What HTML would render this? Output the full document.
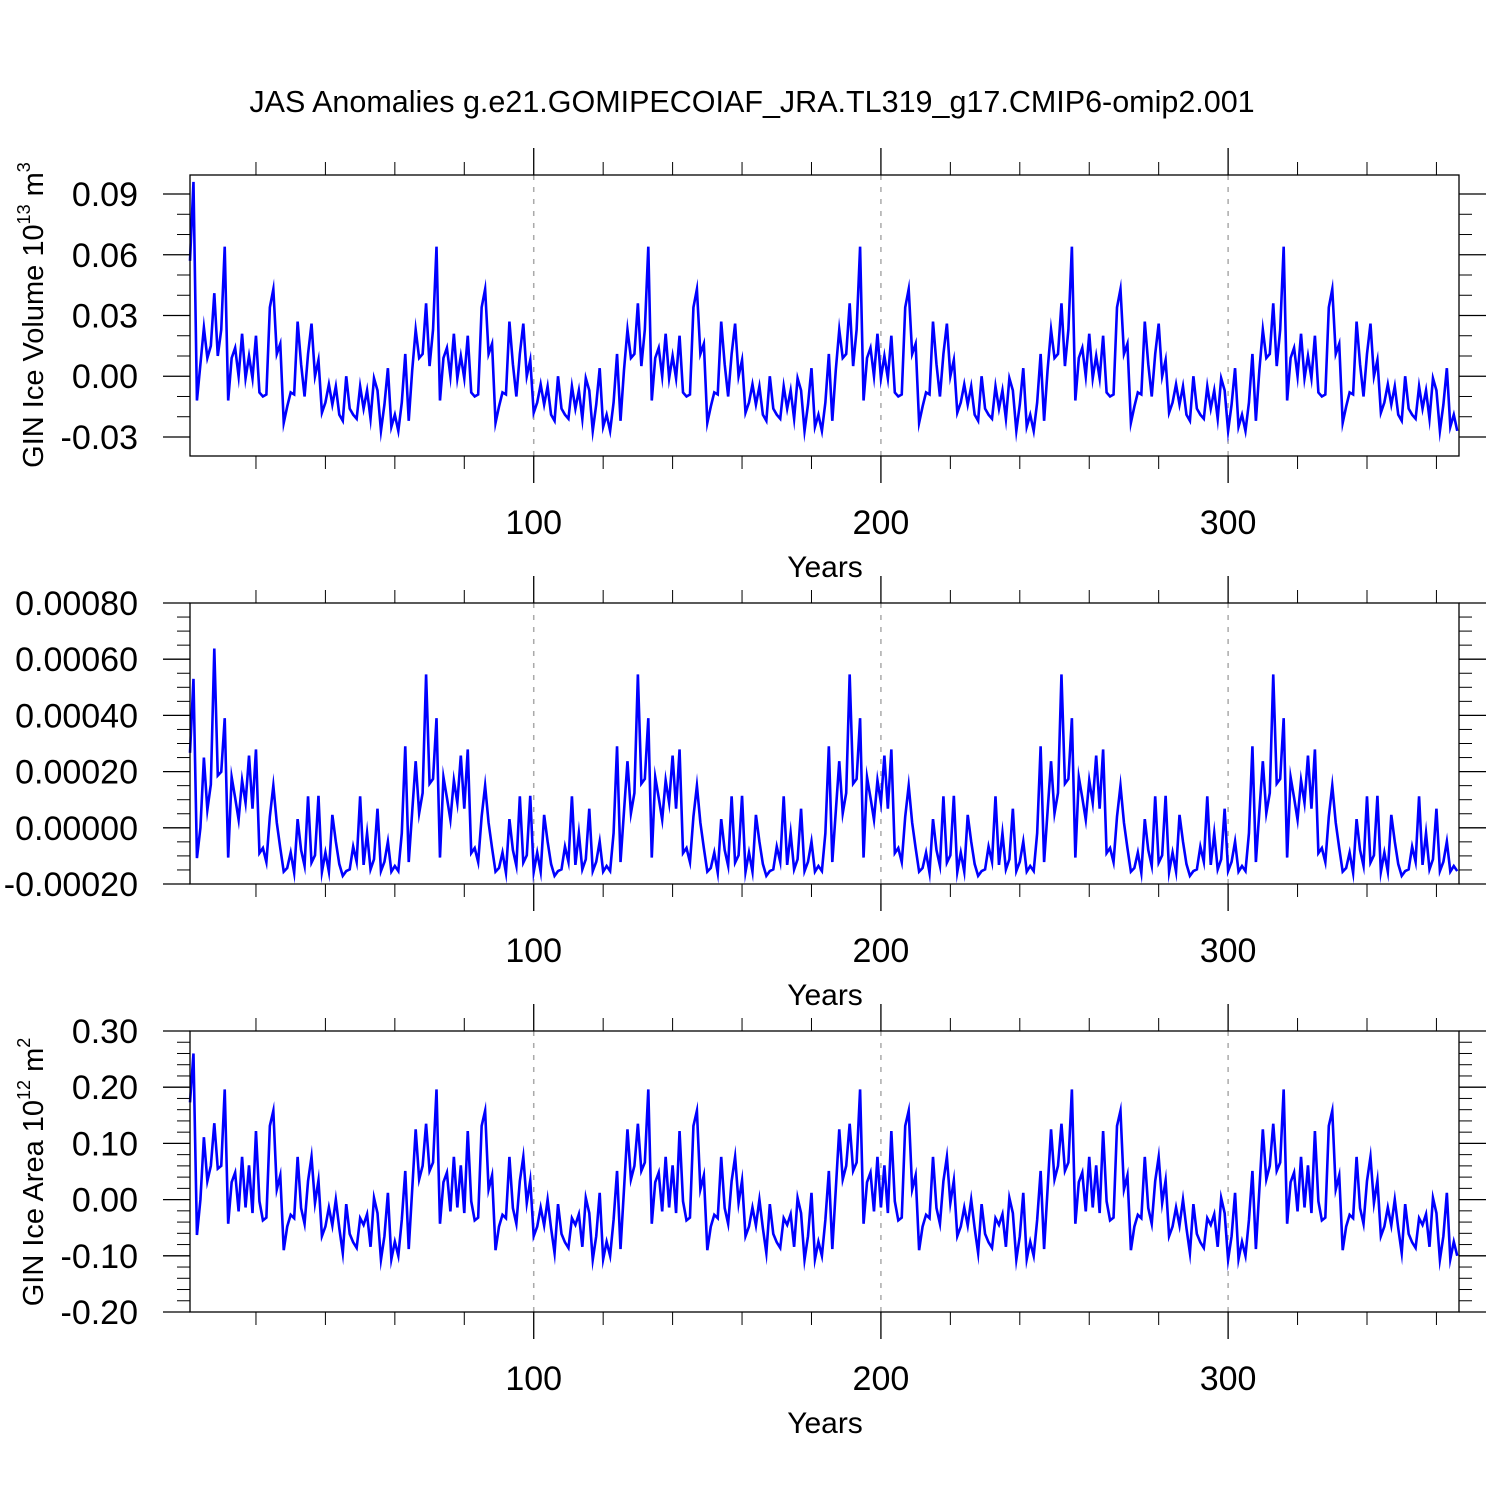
<!DOCTYPE html>
<html><head><meta charset="utf-8"><style>
html,body{margin:0;padding:0;background:#fff;}
svg{display:block;font-family:"Liberation Sans",Arial,sans-serif;}
</style></head><body>
<svg id="chart" width="1500" height="1500" xmlns="http://www.w3.org/2000/svg">
<rect width="1500" height="1500" fill="#fff"/>
<text x="752" y="112" font-size="30.5" text-anchor="middle">JAS Anomalies g.e21.GOMIPECOIAF_JRA.TL319_g17.CMIP6-omip2.001</text>
<text transform="translate(43,315) rotate(-90)" font-size="29" text-anchor="middle">GIN Ice Volume 10<tspan font-size="18" dy="-13">13</tspan><tspan dy="13"> m</tspan><tspan font-size="18" dy="-13">3</tspan></text>
<text transform="translate(43,1172) rotate(-90)" font-size="29" text-anchor="middle">GIN Ice Area 10<tspan font-size="18" dy="-13">12</tspan><tspan dy="13"> m</tspan><tspan font-size="18" dy="-13">2</tspan></text>
</svg>
<script>
const volume = [0.057,0.096,-0.012,0.006,0.024,0.009,0.015,0.041,0.010,0.023,
0.064,-0.012,0.009,0.014,0.000,0.021,-0.001,0.010,-0.001,0.020,-0.008,-0.010,-0.009,0.034,0.043,0.011,0.016,-0.023,-0.015,-0.008,-0.009,0.027,0.006,-0.010,0.011,0.026,0.000,0.008,-0.018,-0.013,-0.004,-0.014,-0.005,-0.019,-0.022,0.000,-0.016,-0.019,-0.021,-0.005,-0.016,-0.007,-0.021,-0.001,-0.007,-0.027,-0.014,0.004,-0.025,-0.019,-0.027,-0.013,0.011,-0.022,0.003,0.023,0.009,0.011,0.036,0.005,0.023,
0.064,-0.012,0.009,0.014,0.000,0.021,-0.001,0.010,-0.001,0.020,-0.008,-0.010,-0.009,0.034,0.043,0.011,0.016,-0.023,-0.015,-0.008,-0.009,0.027,0.006,-0.010,0.011,0.026,0.000,0.008,-0.018,-0.013,-0.004,-0.014,-0.005,-0.019,-0.022,0.000,-0.016,-0.019,-0.021,-0.005,-0.016,-0.007,-0.021,-0.001,-0.007,-0.027,-0.014,0.004,-0.025,-0.019,-0.027,-0.013,0.011,-0.022,0.003,0.023,0.009,0.011,0.036,0.005,0.023,
0.064,-0.012,0.009,0.014,0.000,0.021,-0.001,0.010,-0.001,0.020,-0.008,-0.010,-0.009,0.034,0.043,0.011,0.016,-0.023,-0.015,-0.008,-0.009,0.027,0.006,-0.010,0.011,0.026,0.000,0.008,-0.018,-0.013,-0.004,-0.014,-0.005,-0.019,-0.022,0.000,-0.016,-0.019,-0.021,-0.005,-0.016,-0.007,-0.021,-0.001,-0.007,-0.027,-0.014,0.004,-0.025,-0.019,-0.027,-0.013,0.011,-0.022,0.003,0.023,0.009,0.011,0.036,0.005,0.023,
0.064,-0.012,0.009,0.014,0.000,0.021,-0.001,0.010,-0.001,0.020,-0.008,-0.010,-0.009,0.034,0.043,0.011,0.016,-0.023,-0.015,-0.008,-0.009,0.027,0.006,-0.010,0.011,0.026,0.000,0.008,-0.018,-0.013,-0.004,-0.014,-0.005,-0.019,-0.022,0.000,-0.016,-0.019,-0.021,-0.005,-0.016,-0.007,-0.021,-0.001,-0.007,-0.027,-0.014,0.004,-0.025,-0.019,-0.027,-0.013,0.011,-0.022,0.003,0.023,0.009,0.011,0.036,0.005,0.023,
0.064,-0.012,0.009,0.014,0.000,0.021,-0.001,0.010,-0.001,0.020,-0.008,-0.010,-0.009,0.034,0.043,0.011,0.016,-0.023,-0.015,-0.008,-0.009,0.027,0.006,-0.010,0.011,0.026,0.000,0.008,-0.018,-0.013,-0.004,-0.014,-0.005,-0.019,-0.022,0.000,-0.016,-0.019,-0.021,-0.005,-0.016,-0.007,-0.021,-0.001,-0.007,-0.027,-0.014,0.004,-0.025,-0.019,-0.027,-0.013,0.011,-0.022,0.003,0.023,0.009,0.011,0.036,0.005,0.023,
0.064,-0.012,0.009,0.014,0.000,0.021,-0.001,0.010,-0.001,0.020,-0.008,-0.010,-0.009,0.034,0.043,0.011,0.016,-0.023,-0.015,-0.008,-0.009,0.027,0.006,-0.010,0.011,0.026,0.000,0.008,-0.018,-0.013,-0.004,-0.014,-0.005,-0.019,-0.022,0.000,-0.016,-0.019,-0.021,-0.005,-0.016,-0.007,-0.021,-0.001,-0.007,-0.027,-0.014,0.004,-0.025,-0.019,-0.027];

// middle panel values in units of 1e-5
const middle = [26.7,53,-10.8,0,25,6.4,15.4,63.8,18.6,19.9,
39,-10.6,18,10.7,2.9,16.9,8.9,25.7,6.8,27.9,-9,-7.2,-12.2,4,15,1.8,-7.2,-15.6,-14.3,-8.8,-16,3.1,-7.9,-13.5,11.2,-12.4,-9.8,11.4,-15.7,-8.8,-15.6,4.6,-4.9,-12.9,-17.1,-15.4,-14.8,-6.7,-12.1,11.2,-13.2,-1.9,-14.8,-11.2,6.8,-15.4,-12.1,-4.9,-15.6,-13.6,-15.4,-1.9,29,-12.2,5.8,23.7,5.2,12.4,54.6,15.7,17.4,
39,-10.6,18,10.7,2.9,16.9,8.9,25.7,6.8,27.9,-9,-7.2,-12.2,4,15,1.8,-7.2,-15.6,-14.3,-8.8,-16,3.1,-7.9,-13.5,11.2,-12.4,-9.8,11.4,-15.7,-8.8,-15.6,4.6,-4.9,-12.9,-17.1,-15.4,-14.8,-6.7,-12.1,11.2,-13.2,-1.9,-14.8,-11.2,6.8,-15.4,-12.1,-4.9,-15.6,-13.6,-15.4,-1.9,29,-12.2,5.8,23.7,5.2,12.4,54.6,15.7,17.4,
39,-10.6,18,10.7,2.9,16.9,8.9,25.7,6.8,27.9,-9,-7.2,-12.2,4,15,1.8,-7.2,-15.6,-14.3,-8.8,-16,3.1,-7.9,-13.5,11.2,-12.4,-9.8,11.4,-15.7,-8.8,-15.6,4.6,-4.9,-12.9,-17.1,-15.4,-14.8,-6.7,-12.1,11.2,-13.2,-1.9,-14.8,-11.2,6.8,-15.4,-12.1,-4.9,-15.6,-13.6,-15.4,-1.9,29,-12.2,5.8,23.7,5.2,12.4,54.6,15.7,17.4,
39,-10.6,18,10.7,2.9,16.9,8.9,25.7,6.8,27.9,-9,-7.2,-12.2,4,15,1.8,-7.2,-15.6,-14.3,-8.8,-16,3.1,-7.9,-13.5,11.2,-12.4,-9.8,11.4,-15.7,-8.8,-15.6,4.6,-4.9,-12.9,-17.1,-15.4,-14.8,-6.7,-12.1,11.2,-13.2,-1.9,-14.8,-11.2,6.8,-15.4,-12.1,-4.9,-15.6,-13.6,-15.4,-1.9,29,-12.2,5.8,23.7,5.2,12.4,54.6,15.7,17.4,
39,-10.6,18,10.7,2.9,16.9,8.9,25.7,6.8,27.9,-9,-7.2,-12.2,4,15,1.8,-7.2,-15.6,-14.3,-8.8,-16,3.1,-7.9,-13.5,11.2,-12.4,-9.8,11.4,-15.7,-8.8,-15.6,4.6,-4.9,-12.9,-17.1,-15.4,-14.8,-6.7,-12.1,11.2,-13.2,-1.9,-14.8,-11.2,6.8,-15.4,-12.1,-4.9,-15.6,-13.6,-15.4,-1.9,29,-12.2,5.8,23.7,5.2,12.4,54.6,15.7,17.4,
39,-10.6,18,10.7,2.9,16.9,8.9,25.7,6.8,27.9,-9,-7.2,-12.2,4,15,1.8,-7.2,-15.6,-14.3,-8.8,-16,3.1,-7.9,-13.5,11.2,-12.4,-9.8,11.4,-15.7,-8.8,-15.6,4.6,-4.9,-12.9,-17.1,-15.4,-14.8,-6.7,-12.1,11.2,-13.2,-1.9,-14.8,-11.2,6.8,-15.4,-12.1,-4.9,-15.6,-13.6,-15.4];

const area = [0.173,0.26,-0.063,0.0,0.111,0.033,0.06,0.136,0.055,0.06,
0.196,-0.043,0.031,0.048,-0.021,0.076,-0.014,0.061,-0.024,0.122,-0.003,-0.037,-0.032,0.131,0.158,0.018,0.043,-0.090,-0.048,-0.027,-0.033,0.076,-0.015,-0.043,0.033,0.076,-0.006,0.034,-0.065,-0.048,-0.014,-0.046,0.000,-0.051,-0.095,-0.008,-0.061,-0.076,-0.086,-0.033,-0.045,-0.026,-0.084,0.003,-0.024,-0.107,-0.065,0.012,-0.106,-0.075,-0.100,-0.036,0.051,-0.088,0.018,0.125,0.036,0.060,0.135,0.051,0.066,
0.196,-0.043,0.031,0.048,-0.021,0.076,-0.014,0.061,-0.024,0.122,-0.003,-0.037,-0.032,0.131,0.158,0.018,0.043,-0.090,-0.048,-0.027,-0.033,0.076,-0.015,-0.043,0.033,0.076,-0.006,0.034,-0.065,-0.048,-0.014,-0.046,0.000,-0.051,-0.095,-0.008,-0.061,-0.076,-0.086,-0.033,-0.045,-0.026,-0.084,0.003,-0.024,-0.107,-0.065,0.012,-0.106,-0.075,-0.100,-0.036,0.051,-0.088,0.018,0.125,0.036,0.060,0.135,0.051,0.066,
0.196,-0.043,0.031,0.048,-0.021,0.076,-0.014,0.061,-0.024,0.122,-0.003,-0.037,-0.032,0.131,0.158,0.018,0.043,-0.090,-0.048,-0.027,-0.033,0.076,-0.015,-0.043,0.033,0.076,-0.006,0.034,-0.065,-0.048,-0.014,-0.046,0.000,-0.051,-0.095,-0.008,-0.061,-0.076,-0.086,-0.033,-0.045,-0.026,-0.084,0.003,-0.024,-0.107,-0.065,0.012,-0.106,-0.075,-0.100,-0.036,0.051,-0.088,0.018,0.125,0.036,0.060,0.135,0.051,0.066,
0.196,-0.043,0.031,0.048,-0.021,0.076,-0.014,0.061,-0.024,0.122,-0.003,-0.037,-0.032,0.131,0.158,0.018,0.043,-0.090,-0.048,-0.027,-0.033,0.076,-0.015,-0.043,0.033,0.076,-0.006,0.034,-0.065,-0.048,-0.014,-0.046,0.000,-0.051,-0.095,-0.008,-0.061,-0.076,-0.086,-0.033,-0.045,-0.026,-0.084,0.003,-0.024,-0.107,-0.065,0.012,-0.106,-0.075,-0.100,-0.036,0.051,-0.088,0.018,0.125,0.036,0.060,0.135,0.051,0.066,
0.196,-0.043,0.031,0.048,-0.021,0.076,-0.014,0.061,-0.024,0.122,-0.003,-0.037,-0.032,0.131,0.158,0.018,0.043,-0.090,-0.048,-0.027,-0.033,0.076,-0.015,-0.043,0.033,0.076,-0.006,0.034,-0.065,-0.048,-0.014,-0.046,0.000,-0.051,-0.095,-0.008,-0.061,-0.076,-0.086,-0.033,-0.045,-0.026,-0.084,0.003,-0.024,-0.107,-0.065,0.012,-0.106,-0.075,-0.100,-0.036,0.051,-0.088,0.018,0.125,0.036,0.060,0.135,0.051,0.066,
0.196,-0.043,0.031,0.048,-0.021,0.076,-0.014,0.061,-0.024,0.122,-0.003,-0.037,-0.032,0.131,0.158,0.018,0.043,-0.090,-0.048,-0.027,-0.033,0.076,-0.015,-0.043,0.033,0.076,-0.006,0.034,-0.065,-0.048,-0.014,-0.046,0.000,-0.051,-0.095,-0.008,-0.061,-0.076,-0.086,-0.033,-0.045,-0.026,-0.084,0.003,-0.024,-0.107,-0.065,0.012,-0.106,-0.075,-0.100];

const xMajorTicks = [100, 200, 300];
const xMajorLabels = ["100", "200", "300"];
const xMinorTicks = [20,40,60,80,120,140,160,180,220,240,260,280,320,340,360];
const volTicks = [-0.03, 0, 0.03, 0.06, 0.09];
const volLabels = ["-0.03", "0.00", "0.03", "0.06", "0.09"];
const midTicks = [-20, 0, 20, 40, 60, 80];
const midLabels = ["-0.00020", "0.00000", "0.00020", "0.00040", "0.00060", "0.00080"];
const areaTicks = [-0.2, -0.1, 0, 0.1, 0.2, 0.3];
const areaLabels = ["-0.20", "-0.10", "0.00", "0.10", "0.20", "0.30"];

const svg = document.getElementById('chart');
const NS = 'http://www.w3.org/2000/svg';
const L = 190, R = 1459, H = 281;
const xMin = 1, xMax = 366.5;
function xScale(v){ return L + (v - xMin) / (xMax - xMin) * (R - L); }
function mk(tag, attrs, parent){ const e = document.createElementNS(NS, tag); for (const k in attrs) e.setAttribute(k, attrs[k]); (parent||svg).appendChild(e); return e; }

const panels = [
 {name:'volume', top:175, data:volume, ymin:-0.0394, ymax:0.0994, ticks:volTicks, labels:volLabels, minor:0.01},
 {name:'middle', top:603, data:middle, ymin:-20, ymax:80, ticks:midTicks, labels:midLabels, minor:5},
 {name:'area', top:1031, data:area, ymin:-0.2, ymax:0.3, ticks:areaTicks, labels:areaLabels, minor:0.02}
];

panels.forEach(p => {
  const T = p.top, B = p.top + H;
  const yScale = v => B - (v - p.ymin) / (p.ymax - p.ymin) * H;
  const g = mk('g', {});
  
  
  xMajorTicks.forEach(t => {
    const gl = mk('line', {x1:xScale(t), x2:xScale(t), y1:T, y2:B, stroke:'#aaa', 'stroke-width':1.5, 'stroke-dasharray':'5,7'}, g);
    
    
  });
  let d = '';
  p.data.forEach((v, i) => { d += (i ? 'L' : 'M') + xScale(i + 1).toFixed(2) + ',' + yScale(v).toFixed(2); });
  const line = mk('path', {d:d, fill:'none', stroke:'#0000ff', 'stroke-width':2.6, 'stroke-linejoin':'miter', 'stroke-miterlimit':10}, g);
  
  
  const fr = mk('rect', {x:L, y:T, width:R-L, height:H, fill:'none', stroke:'#000', 'stroke-width':1.3}, g);
  
  
  xMajorTicks.forEach((t, i) => {
    const x = xScale(t);
    mk('line', {x1:x, x2:x, y1:T, y2:T-27, stroke:'#000', 'stroke-width':1.3}, g);
    mk('line', {x1:x, x2:x, y1:B, y2:B+27, stroke:'#000', 'stroke-width':1.3}, g);
    const lb = mk('text', {x:x, y:B+78, 'font-size':34, 'text-anchor':'middle'}, g);
    lb.textContent = xMajorLabels[i];
    
    
  });
  xMinorTicks.forEach(t => {
    const x = xScale(t);
    mk('line', {x1:x, x2:x, y1:T, y2:T-13, stroke:'#000', 'stroke-width':1}, g);
    mk('line', {x1:x, x2:x, y1:B, y2:B+13, stroke:'#000', 'stroke-width':1}, g);
  });
  const xt = mk('text', {x:825, y:B+121, 'font-size':30, 'text-anchor':'middle'}, g);
  xt.textContent = 'Years';
  
  
  p.ticks.forEach((t, i) => {
    const y = yScale(t);
    mk('line', {x1:L, x2:L-27, y1:y, y2:y, stroke:'#000', 'stroke-width':1.3}, g);
    mk('line', {x1:R, x2:R+27, y1:y, y2:y, stroke:'#000', 'stroke-width':1.3}, g);
    const lb = mk('text', {x:138, y:y+12, 'font-size':34, 'text-anchor':'end'}, g);
    lb.textContent = p.labels[i];
    
    
  });
  const start = Math.ceil(p.ymin / p.minor - 1e-6);
  for (let k = start; k * p.minor <= p.ymax + 1e-9; k++) {
    const v = k * p.minor;
    if (p.ticks.some(t => Math.abs(t - v) < p.minor / 10)) continue;
    const y = yScale(v);
    if (y < T - 0.5 || y > B + 0.5) continue;
    mk('line', {x1:L, x2:L-13, y1:y, y2:y, stroke:'#000', 'stroke-width':1}, g);
    mk('line', {x1:R, x2:R+13, y1:y, y2:y, stroke:'#000', 'stroke-width':1}, g);
  }
});
</script>
</body></html>
